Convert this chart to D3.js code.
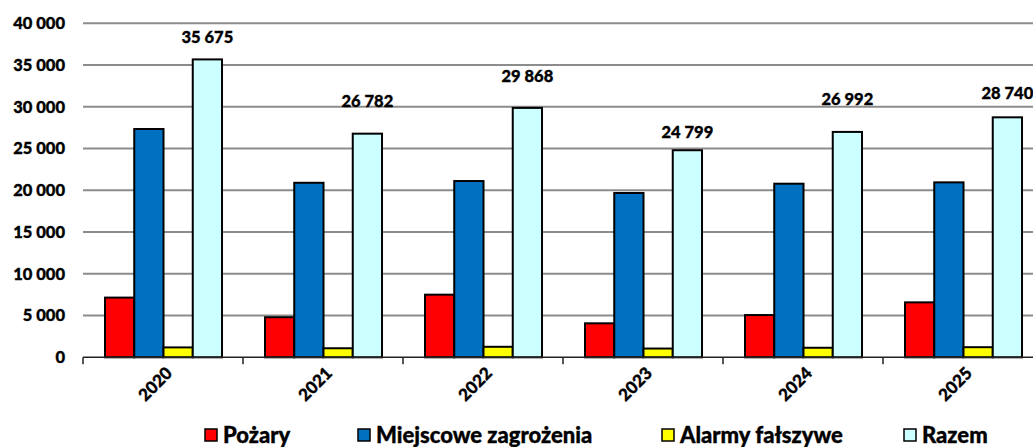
<!DOCTYPE html>
<html>
<head>
<meta charset="utf-8">
<script src="https://cdn.jsdelivr.net/npm/d3@7"></script>
<style>
  body { margin: 0; background: #fff; }
  svg { display: block; font-family: Lato, "Open Sans", sans-serif; font-weight: 900; }
  svg text { stroke: #000; stroke-width: 0.35px; }
</style>
</head>
<body>
<div id="chart"></div>
<script>
// data
var years = ["2020", "2021", "2022", "2023", "2024", "2025"];
var seriesNames = ["Pożary", "Miejscowe zagrożenia", "Alarmy fałszywe", "Razem"];
var pozary = [7150, 4800, 7500, 4070, 5060, 6580];
var miejscowe = [27340, 20900, 21110, 19680, 20790, 20950];
var alarmy = [1185, 1082, 1258, 1049, 1142, 1210];
var razem = [35675, 26782, 29868, 24799, 26992, 28740];
var yTicks = [0, 5000, 10000, 15000, 20000, 25000, 30000, 35000, 40000];
var colors = ["#ff0000", "#0070c0", "#ffff00", "#ccffff"];
// how far above the Razem bar each total label sits (px)
var labelGap = [22, 33, 32, 18, 33, 24];

var W = 1033, H = 447;
var svg = d3.select("#chart").append("svg").attr("width", W).attr("height", H);

var y = d3.scaleLinear().domain([0, 40000]).range([357.3, 23.3]);
var x0 = d3.scaleBand().domain(years).range([83, 1043]).padding(0);
var x1 = d3.scaleBand().domain(seriesNames).range([22, 139]).padding(0);

var fmt = function(v) { return d3.format(",")(v).replace(/,/g, " "); };

// grid
svg.append("g").selectAll("line").data(yTicks.slice(1)).join("line")
  .attr("x1", 83).attr("x2", W)
  .attr("y1", d => y(d)).attr("y2", d => y(d))
  .attr("stroke", "#8c8c8c").attr("stroke-width", 2);

// y labels
svg.append("g").selectAll("text").data(yTicks).join("text")
  .attr("x", 65).attr("y", d => y(d)).attr("dy", "0.36em")
  .attr("text-anchor", "end").attr("font-size", 16.5).attr("fill", "#000")
  .text(fmt);

// bars
var table = years.map(function(yr, i) {
  return { year: yr, vals: [pozary[i], miejscowe[i], alarmy[i], razem[i]] };
});

var groups = svg.append("g").selectAll("g").data(table).join("g")
  .attr("transform", d => "translate(" + x0(d.year) + ",0)");

groups.selectAll("rect").data(d => d.vals.map((v, k) => ({ s: seriesNames[k], v: v, k: k })))
  .join("rect")
  .attr("x", d => x1(d.s)).attr("width", x1.bandwidth())
  .attr("y", d => y(d.v)).attr("height", d => y(0) - y(d.v))
  .attr("fill", d => colors[d.k]).attr("stroke", "#000").attr("stroke-width", 2);

// x axis line and ticks
svg.append("line").attr("x1", 83).attr("x2", W).attr("y1", y(0)).attr("y2", y(0))
  .attr("stroke", "#222").attr("stroke-width", 1.5);
svg.append("g").selectAll("line").data(years.concat(["end"])).join("line")
  .attr("x1", (d, i) => 83 + i * x0.bandwidth()).attr("x2", (d, i) => 83 + i * x0.bandwidth())
  .attr("y1", y(0)).attr("y2", y(0) + 7)
  .attr("stroke", "#222").attr("stroke-width", 1.5);

// x labels
svg.append("g").selectAll("text").data(years).join("text")
  .attr("transform", d => "translate(" + (x0(d) + x0.bandwidth() / 2 + 6) + "," + 370 + ") rotate(-45)")
  .attr("text-anchor", "end").attr("dy", "0.36em")
  .attr("font-size", 17).attr("fill", "#000")
  .text(d => d);

// total labels
svg.append("g").selectAll("text").data(table).join("text")
  .attr("x", d => x0(d.year) + x1("Razem") + x1.bandwidth() / 2)
  .attr("y", (d, i) => y(d.vals[3]) - labelGap[i]).attr("dy", "0.36em")
  .attr("text-anchor", "middle").attr("font-size", 16.5).attr("fill", "#000")
  .text(d => fmt(d.vals[3]));

// legend
var legendX = [205, 358, 662, 904];
var leg = svg.append("g").selectAll("g").data(seriesNames).join("g")
  .attr("transform", (d, i) => "translate(" + legendX[i] + ",429)");
leg.append("rect").attr("width", 12).attr("height", 12)
  .attr("fill", (d, i) => colors[i]).attr("stroke", "#000").attr("stroke-width", 1.5);
leg.append("text").attr("x", 18).attr("y", 6).attr("dy", "0.36em")
  .attr("font-size", 22).attr("fill", "#000").text(d => d);
</script>
</body>
</html>
